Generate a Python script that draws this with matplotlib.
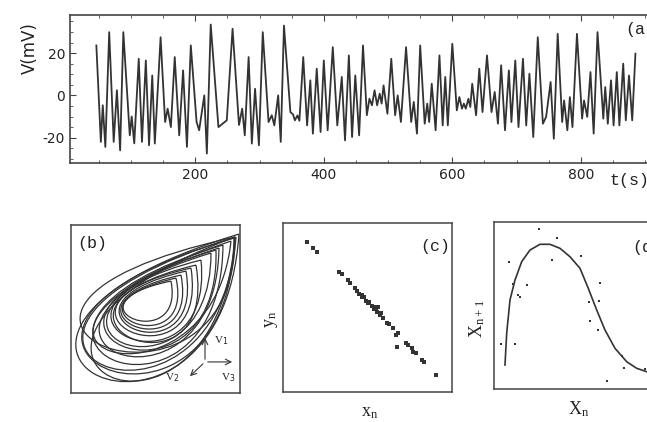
import matplotlib
matplotlib.use("Agg")
import matplotlib.pyplot as plt
from matplotlib.path import Path
from matplotlib.patches import PathPatch
from matplotlib.ticker import MultipleLocator

plt.rcParams['axes.unicode_minus'] = False

# (a) membrane voltage, local extrema
t_s = [46, 53, 56, 60, 66, 73, 78, 83, 88, 98, 101, 105, 112, 117, 123, 128, 133, 137,
       146, 153, 157, 162, 168, 175, 181, 187, 193, 202, 206, 214, 218, 224, 236, 244,
       249, 258, 268, 273, 277, 283, 288, 293, 299, 305, 314, 319, 323, 329, 333, 338,
       348, 352, 355, 359, 362, 368, 374, 379, 383, 389, 395, 400, 406, 414, 421, 428,
       433, 439, 444, 449, 455, 461, 467, 471, 475, 479, 483, 487, 490, 493, 499, 505,
       511, 515, 520, 528, 536, 540, 545, 550, 557, 561, 564, 568, 574, 580, 585, 589,
       593, 600, 607, 611, 615, 618, 621, 625, 628, 631, 637, 642, 647, 654, 661, 666,
       671, 676, 682, 688, 692, 698, 703, 710, 715, 720, 726, 733, 741, 746, 753, 758,
       764, 771, 774, 779, 783, 787, 794, 802, 805, 810, 815, 820, 826, 835, 838, 842,
       847, 851, 856, 860, 866, 870, 875, 880, 885]
v_mv = [23.6, -22.0, -4.7, -24.4, 29.9, -22.0, 2.4, -26.0, 29.9, -18.9, -10.0, -22.7,
        17.3, -22.0, 16.5, -23.6, 9.4, -22.8, 27.5, -12.6, -6.3, -15.0, 18.1, -18.9,
        11.8, -24.4, 23.6, -12.6, -16.5, 0.0, -27.5, 33.5, -15.0, -13.0, -11.8, 31.5,
        -14.0, -6.3, -18.9, 18.1, -22.8, 3.1, -23.6, 29.9, -12.6, -9.4, -14.2, 0.0,
        -22.0, 33.0, -7.9, -9.0, -11.8, -9.5, -12.0, 18.1, -14.2, 7.1, -18.1, 12.6,
        -17.3, 16.5, -16.5, 22.8, -14.2, 8.7, -21.3, 18.9, -19.7, 9.4, -18.9, 23.6,
        -9.4, -1.6, -4.7, 2.4, -4.7, 0.8, -3.9, 4.7, -8.7, 17.3, -9.4, 0.0, -12.6,
        22.8, -12.6, -3.1, -18.1, 23.6, -13.4, -3.9, -12.6, 5.5, -16.5, 18.9, -14.2,
        8.7, -14.2, 24.4, -7.1, -0.8, -6.3, -3.9, -6.3, -1.6, -5.5, 5.5, -9.4, 12.6,
        -7.9, 18.9, -7.9, 1.6, -13.4, 14.2, -16.5, 11.8, -12.6, 16.5, -15.0, 17.3,
        -14.2, 10.2, -19.7, 27.5, -13.4, -10.2, 6.3, -20.5, 29.1, -12.6, -2.4, -16.5,
        -0.8, -15.0, 29.1, -11.0, -2.4, -10.2, 11.0, -18.1, 29.9, -11.0, 3.9, -13.4,
        7.1, -14.2, 11.0, -14.2, 15.0, -11.8, 9.4, -11.8, 19.7]

# (b) reconstructed attractor: each loop = tip + two cubic control points
loop_tip = [(168, 159), (163, 155), (165, 156), (164, 156), (164, 156), (160, 152),
            (152, 148), (148, 145), (145, 143), (140, 140), (130, 133), (125, 128),
            (120, 125), (115, 122), (110, 118), (105, 115), (100, 112)]
loop_c1 = [(150, -110), (160, -95), (146, -85), (145, -100), (165, -60), (140, -40),
           (150, -70), (145, -50), (150, -40), (140, -30), (145, -20), (150, -20),
           (140, -5), (135, 5), (130, 15), (125, 25), (115, 35)]
loop_c2 = [(-190, 50), (-178, 58), (-170, 55), (-150, 40), (-185, 80), (-140, 50),
           (-140, 60), (-120, 60), (-110, 70), (-95, 70), (-80, 80), (-73, 81),
           (-60, 85), (-45, 85), (-35, 85), (-25, 85), (-15, 88)]

# (c) return map y_n vs x_n
xn = [14.4, 17.6, 19.9, 33.3, 34.7, 38.6, 39.6, 42.6, 44.0, 45.1, 46.6, 47.0, 47.9,
      49.0, 50.5, 51.0, 52.5, 53.8, 54.0, 55.0, 55.8, 56.4, 57.4, 58.0, 59.3, 61.4,
      62.9, 65.3, 66.9, 67.3, 68.2, 72.8, 74.1, 76.2, 77.1, 78.5, 82.1, 83.4, 90.5]
yn = [88.9, 85.4, 82.7, 71.2, 69.8, 66.3, 64.3, 61.4, 59.9, 57.8, 56.4, 57.5, 56.0,
      54.0, 52.5, 53.5, 50.9, 50.1, 49.0, 48.9, 47.5, 50.5, 45.6, 47.0, 43.6, 41.0,
      40.2, 37.7, 33.7, 26.8, 34.7, 29.2, 27.8, 25.9, 23.8, 22.9, 18.9, 17.6, 10.1]

# (d) one-dimensional map X_{n+1} vs X_n, fitted curve and points
map_x = [11, 12.7, 16, 21, 27.7, 36, 46, 56, 66, 76, 86, 94.3, 102.7, 111, 121, 132.7,
         142.7, 152.7, 160]
map_y = [24, 55.7, 89, 109, 127.3, 139, 144.7, 144.7, 140.7, 132.3, 120.7, 100.7, 79,
         59, 40.7, 27.3, 20.7, 17.3, 15.5]
pts_x = [45.3, 63.3, 15.3, 58.3, 87, 18.7, 32.7, 24.3, 26.5, 106, 95.3, 105.3, 96,
         104.3, 7, 21, 128.3, 130.3, 112.7, 151]
pts_y = [160, 150.7, 127.3, 129, 133, 105, 104, 94, 92, 105.7, 86.7, 88, 68.3, 59,
         45, 44.7, 33, 21.3, 8, 20]

ink = '#333333'
frame = '#444444'
txt = '#222222'

fig = plt.figure(figsize=(6.47, 4.22), dpi=100)

# ---- (a) time series
ax = fig.add_axes([0.1082, 0.6137, 0.9484, 0.3507])
ax.plot(t_s, v_mv, color=ink, lw=1.3, solid_joinstyle='round')
ax.set_xlim(5, 960)
ax.set_ylim(-32, 38)
ax.xaxis.set_major_locator(MultipleLocator(200))
ax.xaxis.set_minor_locator(MultipleLocator(50))
ax.yaxis.set_major_locator(MultipleLocator(20))
ax.yaxis.set_minor_locator(MultipleLocator(5))
ax.tick_params(which='both', direction='in', top=True, right=True, colors=frame,
               labelcolor=txt, labelsize=10)
ax.tick_params(which='major', length=4)
ax.tick_params(which='minor', length=2)
ax.set_xticks([200, 400, 600, 800])
for s in ax.spines.values():
    s.set_color(frame)
    s.set_linewidth(1.2)
ax.text(-0.065, 0.78, 'V(mV)', transform=ax.transAxes, rotation=90,
        ha='center', va='center', fontsize=12, color=txt)
ax.text(0.88, -0.115, 't(s)', transform=ax.transAxes, ha='left', va='center',
        fontsize=12, family='Liberation Mono', color=txt)
ax.text(0.905, 0.90, '(a)', transform=ax.transAxes, ha='left', va='center',
        fontsize=12, family='Liberation Mono', color=txt)

# ---- (b) attractor
axb = fig.add_axes([0.1097, 0.0687, 0.2612, 0.398])
codes = [Path.MOVETO, Path.CURVE4, Path.CURVE4, Path.CURVE4]
for tip, c1, c2 in zip(loop_tip, loop_c1, loop_c2):
    path = Path([tip, c1, c2, tip], codes)
    axb.add_patch(PathPatch(path, fill=False, edgecolor=ink, lw=0.9))
axb.set_xlim(0, 169)
axb.set_ylim(0, 168)
axb.text(0.04, 0.89, '(b)', transform=axb.transAxes, ha='left', va='center',
         fontsize=12, family='Liberation Mono', color=txt)
o = (0.793, 0.185)
for end in [(0.793, 0.345), (0.97, 0.185), (0.692, 0.089)]:
    axb.annotate('', xy=end, xytext=o, xycoords='axes fraction',
                 arrowprops=dict(arrowstyle='->', color=ink, lw=0.8))
axb.text(0.89, 0.315, 'V$_1$', transform=axb.transAxes, fontsize=8,
         family='Liberation Serif', ha='center', va='center', color=txt)
axb.text(0.93, 0.09, 'V$_3$', transform=axb.transAxes, fontsize=8,
         family='Liberation Serif', ha='center', va='center', color=txt)
axb.text(0.60, 0.09, 'V$_2$', transform=axb.transAxes, fontsize=8,
         family='Liberation Serif', ha='center', va='center', color=txt)

# ---- (c) return map
axc = fig.add_axes([0.4374, 0.0711, 0.2612, 0.4005])
axc.scatter(xn, yn, s=6, marker='s', color=ink, linewidths=0)
axc.set_xlim(0, 100)
axc.set_ylim(0, 100)
axc.text(0.81, 0.86, '(c)', transform=axc.transAxes, ha='left', va='center',
         fontsize=12, family='Liberation Mono', color=txt)
axc.text(-0.07, 0.43, '$\\mathregular{y_n}$', transform=axc.transAxes, rotation=90,
         ha='center', va='center', fontsize=13, family='Liberation Serif', color=txt)
axc.text(0.515, -0.12, '$\\mathregular{x_n}$', transform=axc.transAxes,
         ha='center', va='center', fontsize=13, family='Liberation Serif', color=txt)

# ---- (d) 1D map
axd = fig.add_axes([0.7635, 0.0782, 0.2612, 0.3957])
axd.plot(map_x, map_y, color=ink, lw=1.2, solid_joinstyle='round')
axd.scatter(pts_x, pts_y, s=3, marker='s', color=ink, linewidths=0)
axd.set_xlim(0, 169)
axd.set_ylim(0, 167)
axd.text(0.817, 0.85, '(d)', transform=axd.transAxes, ha='left', va='center',
         fontsize=12, family='Liberation Mono', color=txt)
axd.text(-0.10, 0.425, '$\\mathregular{X_{n+1}}$', transform=axd.transAxes, rotation=90,
         ha='center', va='center', fontsize=13, family='Liberation Serif', color=txt)
axd.text(0.5, -0.12, '$\\mathregular{X_n}$', transform=axd.transAxes,
         ha='center', va='center', fontsize=13, family='Liberation Serif', color=txt)

for a in (axb, axc, axd):
    a.set_xticks([])
    a.set_yticks([])
    for s in a.spines.values():
        s.set_color(frame)
        s.set_linewidth(1.1)

fig.savefig('out.png', dpi=100)
